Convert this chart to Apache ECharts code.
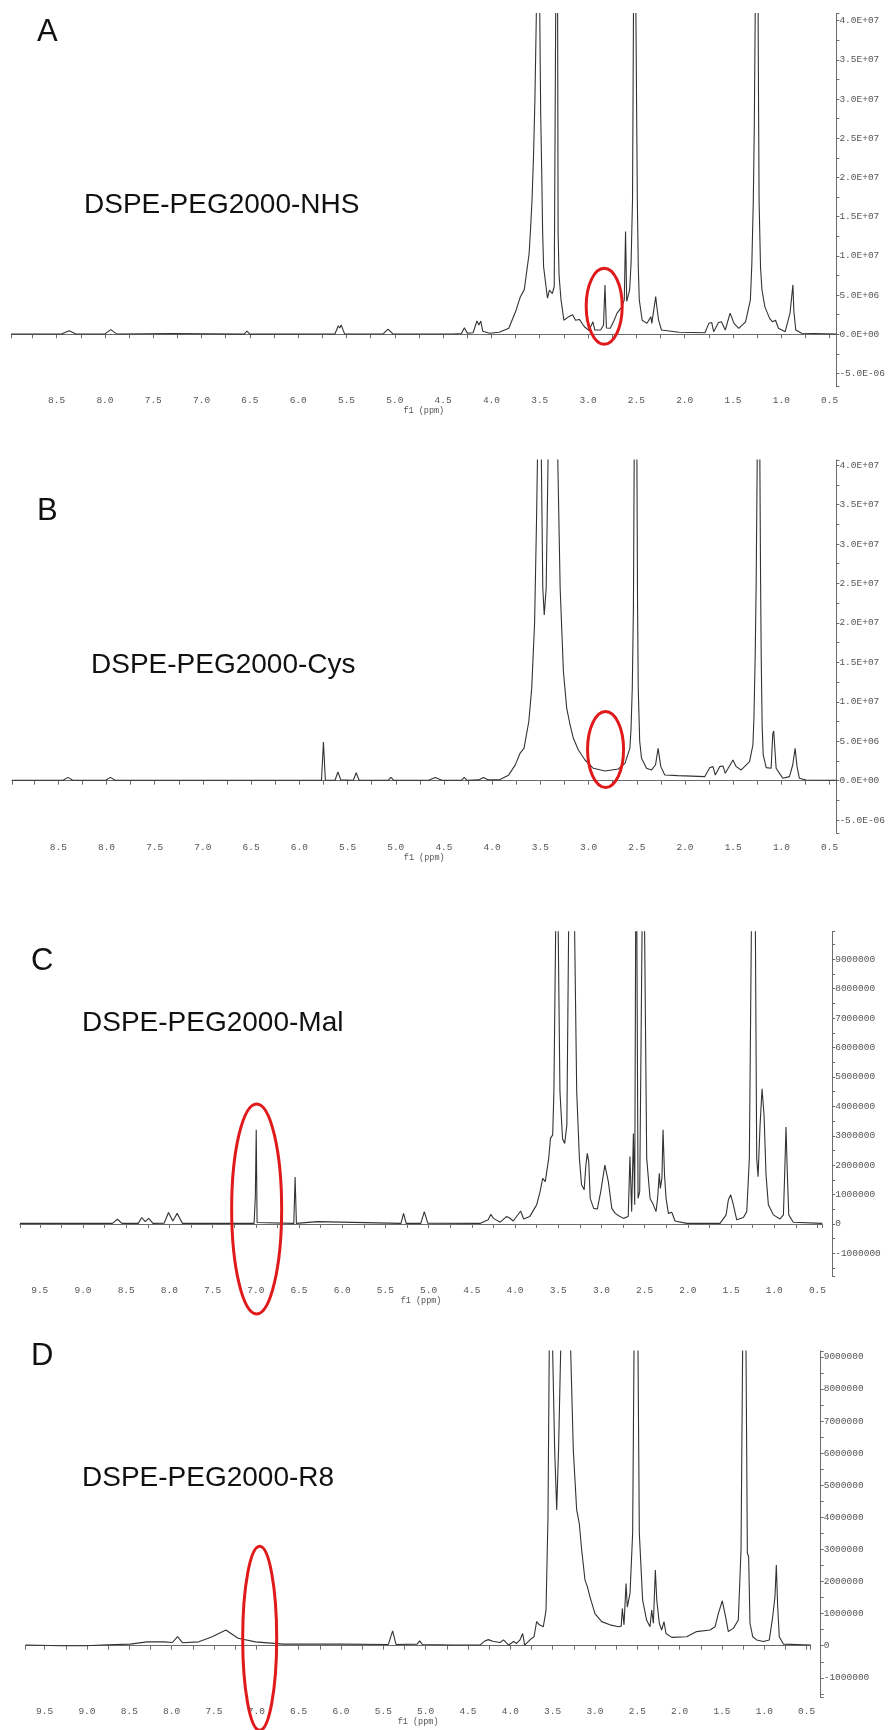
<!DOCTYPE html>
<html>
<head>
<meta charset="utf-8">
<script src="https://cdn.jsdelivr.net/npm/echarts@6/dist/echarts.min.js"></script>
<style>
  html, body { margin: 0; padding: 0; background: #fff; }
  #chart { width: 888px; height: 1730px; }
</style>
</head>
<body>
<div id="chart"></div>
<script>
// spectra: [ppm, intensity in 1e6]
const specA = [[8.97,0.05],[8.45,0.05],[8.37,0.45],[8.30,0.05],[8.00,0.05],[7.94,0.6],[7.88,0.05],[7.30,0.1],[6.56,0.02],[6.53,0.4],[6.50,0.02],[5.62,0.05],[5.585,1.1],[5.57,0.8],[5.555,1.2],[5.52,0.05],[5.12,0.05],[5.07,0.65],[5.02,0.05],[4.40,0.05],[4.31,0.1],[4.28,0.85],[4.25,0.15],[4.19,0.2],[4.15,1.7],[4.13,1.2],[4.11,1.7],[4.09,0.4],[4.02,0.13],[3.92,0.26],[3.82,0.77],[3.75,2.9],[3.70,4.8],[3.66,5.7],[3.61,10.3],[3.595,13.5],[3.58,17.1],[3.565,22.5],[3.55,29.9],[3.535,41],[3.52,60],[3.50,41],[3.49,28],[3.48,21],[3.47,13],[3.46,8.6],[3.42,4.6],[3.40,5.65],[3.37,5.2],[3.35,6.1],[3.335,41],[3.325,60],[3.315,41],[3.31,12.9],[3.30,7.5],[3.28,4.4],[3.25,1.8],[3.20,2.25],[3.16,2.5],[3.13,1.8],[3.09,1.9],[3.04,1.0],[2.99,0.47],[2.95,1.6],[2.93,0.55],[2.87,0.55],[2.84,1.2],[2.825,6.3],[2.81,0.8],[2.77,0.77],[2.73,1.8],[2.70,2.7],[2.65,3.5],[2.625,4.4],[2.612,13.1],[2.60,4.2],[2.57,5.65],[2.555,9],[2.54,17.1],[2.53,41],[2.517,60],[2.505,41],[2.495,25],[2.49,17],[2.48,8.5],[2.47,4.4],[2.44,1.8],[2.39,1.4],[2.35,2.25],[2.34,1.4],[2.30,4.8],[2.29,3.7],[2.27,1.8],[2.24,0.55],[2.06,0.26],[1.79,0.2],[1.75,1.4],[1.72,1.5],[1.70,0.34],[1.65,1.5],[1.62,1.6],[1.58,0.55],[1.53,2.7],[1.49,1.4],[1.44,0.77],[1.37,1.6],[1.32,4.4],[1.305,9],[1.29,17],[1.28,26],[1.27,41],[1.255,60],[1.24,41],[1.235,28],[1.23,17],[1.215,8.5],[1.20,5.65],[1.17,3.5],[1.12,2.0],[1.09,1.6],[1.06,1.8],[1.03,0.77],[0.96,0.34],[0.91,2.7],[0.88,6.3],[0.87,2.9],[0.85,0.55],[0.79,0.13],[0.43,0.04]]

const specB = [[8.98,0.05],[8.45,0.05],[8.40,0.42],[8.35,0.05],[8.01,0.05],[7.96,0.42],[7.91,0.05],[5.77,0.05],[5.75,4.9],[5.73,0.05],[5.63,0.05],[5.60,1.1],[5.57,0.1],[5.44,0.05],[5.41,1.0],[5.38,0.05],[5.21,0.05],[5.19,0.3],[5.17,0.05],[5.08,0.05],[5.05,0.42],[5.02,0.05],[4.66,0.05],[4.59,0.4],[4.52,0.05],[4.32,0.05],[4.29,0.42],[4.26,0.05],[4.14,0.1],[4.09,0.4],[4.04,0.1],[3.93,0.1],[3.83,0.7],[3.76,2.0],[3.71,3.5],[3.67,4.1],[3.62,7.5],[3.59,11.7],[3.56,20],[3.54,33],[3.53,41],[3.505,60],[3.49,41],[3.475,24.4],[3.46,21],[3.44,24.4],[3.42,41],[3.37,60],[3.32,41],[3.295,24.4],[3.261,13.8],[3.227,9.2],[3.192,7.06],[3.158,5.37],[3.106,3.89],[3.037,2.62],[2.951,1.57],[2.83,1.23],[2.692,1.48],[2.623,2.2],[2.572,4.1],[2.56,6.5],[2.547,11.7],[2.535,22],[2.527,41],[2.513,60],[2.499,41],[2.492,22],[2.485,11.7],[2.47,5],[2.451,2.83],[2.399,1.57],[2.348,1.36],[2.306,1.99],[2.279,4.1],[2.251,1.78],[2.21,0.72],[2.072,0.64],[1.796,0.51],[1.744,1.65],[1.71,1.78],[1.686,0.72],[1.641,1.78],[1.606,1.86],[1.582,0.93],[1.503,2.62],[1.469,1.78],[1.417,1.36],[1.331,2.41],[1.296,4.5],[1.285,8],[1.272,15.9],[1.262,25],[1.251,41],[1.238,60],[1.224,41],[1.216,25],[1.21,15.9],[1.20,7],[1.189,3.26],[1.158,1.65],[1.107,1.57],[1.09,5.9],[1.08,6.3],[1.072,6.2],[1.055,1.57],[1.02,0.93],[0.986,0.3],[0.917,0.51],[0.883,1.99],[0.858,4.1],[0.838,1.78],[0.814,0.3],[0.745,0.09],[0.43,0.05]]

const specC = [[9.73,0.02],[8.66,0.02],[8.60,0.16],[8.55,0.02],[8.36,0.02],[8.32,0.22],[8.28,0.08],[8.24,0.19],[8.19,0.02],[8.06,0.03],[8.01,0.39],[7.96,0.1],[7.91,0.36],[7.85,0.02],[7.02,0.02],[7.005,0.95],[6.995,3.2],[6.985,0.05],[6.56,0.02],[6.545,1.6],[6.53,0.02],[6.29,0.08],[5.32,0.02],[5.29,0.36],[5.26,0.02],[5.09,0.02],[5.05,0.42],[5.01,0.03],[4.40,0.02],[4.31,0.14],[4.28,0.33],[4.25,0.19],[4.17,0.06],[4.10,0.25],[4.07,0.22],[4.02,0.1],[3.935,0.44],[3.90,0.17],[3.83,0.25],[3.75,0.65],[3.71,1.1],[3.68,1.55],[3.65,1.44],[3.61,2.23],[3.59,2.91],[3.564,3.03],[3.55,4.5],[3.53,9.9],[3.52,15],[3.50,9.9],[3.48,4.5],[3.45,2.9],[3.425,2.74],[3.40,3.37],[3.38,9.9],[3.34,15],[3.31,9.9],[3.286,4.5],[3.255,2.23],[3.23,1.33],[3.20,1.16],[3.18,2.0],[3.163,2.4],[3.147,2.12],[3.13,0.87],[3.09,0.53],[3.047,0.51],[3.008,1.1],[2.96,2.0],[2.92,1.44],[2.88,0.53],[2.84,0.36],[2.80,0.28],[2.746,0.19],[2.69,0.25],[2.67,2.29],[2.65,0.42],[2.63,3.08],[2.615,0.65],[2.604,9.9],[2.597,15],[2.59,9.9],[2.576,0.87],[2.557,1.1],[2.53,9.9],[2.515,15],[2.50,9.9],[2.476,2.23],[2.437,0.87],[2.399,0.65],[2.368,0.42],[2.35,0.87],[2.33,1.72],[2.318,1.21],[2.30,1.55],[2.287,3.2],[2.27,1.67],[2.252,0.87],[2.225,0.36],[2.186,0.4],[2.148,0.1],[2.013,0.02],[1.627,0.02],[1.557,0.31],[1.531,0.82],[1.504,0.99],[1.473,0.65],[1.434,0.14],[1.357,0.22],[1.318,0.42],[1.288,2.23],[1.265,9.9],[1.241,15],[1.218,9.9],[1.203,2.23],[1.187,1.61],[1.164,3.37],[1.141,4.6],[1.118,3.7],[1.095,1.67],[1.068,0.65],[1.01,0.31],[0.933,0.17],[0.894,0.31],[0.879,1.72],[0.864,3.3],[0.848,1.67],[0.832,0.31],[0.78,0.06],[0.445,0.02]]

const specD = [[9.726,0.02],[9.3,0.0],[9.02,0.0],[8.75,0.03],[8.49,0.05],[8.29,0.12],[8.09,0.12],[7.99,0.1],[7.93,0.28],[7.87,0.09],[7.68,0.12],[7.52,0.28],[7.36,0.49],[7.215,0.23],[7.01,0.12],[6.68,0.05],[6.01,0.05],[5.44,0.04],[5.39,0.46],[5.35,0.04],[5.10,0.05],[5.07,0.15],[5.04,0.04],[4.67,0.02],[4.358,0.02],[4.30,0.15],[4.26,0.19],[4.20,0.13],[4.12,0.1],[4.08,0.18],[4.02,0.02],[3.96,0.13],[3.925,0.07],[3.886,0.18],[3.854,0.38],[3.83,0.02],[3.768,0.18],[3.72,0.28],[3.689,0.75],[3.657,0.65],[3.61,0.59],[3.578,1.11],[3.555,4.0],[3.54,9.2],[3.523,14],[3.50,9.2],[3.476,6.1],[3.452,4.23],[3.43,6.1],[3.405,9.2],[3.354,14],[3.287,9.2],[3.256,6.1],[3.216,4.23],[3.185,3.8],[3.157,2.98],[3.118,2.05],[3.09,1.84],[3.06,1.53],[3.0,1.0],[2.921,0.75],[2.823,0.65],[2.724,0.59],[2.69,0.61],[2.677,1.16],[2.657,0.65],[2.633,1.94],[2.618,1.2],[2.586,1.63],[2.555,3.5],[2.539,9.2],[2.52,14],[2.492,9.2],[2.476,3.5],[2.437,1.42],[2.39,0.8],[2.35,0.59],[2.33,1.11],[2.31,0.7],[2.287,2.36],[2.27,1.42],[2.24,0.7],[2.212,0.49],[2.185,0.75],[2.161,0.38],[2.094,0.26],[1.917,0.28],[1.799,0.44],[1.642,0.49],[1.582,0.59],[1.543,1.0],[1.496,1.4],[1.457,0.9],[1.425,0.44],[1.366,0.54],[1.307,0.8],[1.275,2.98],[1.256,9.2],[1.236,14],[1.216,9.2],[1.2,2.88],[1.185,2.77],[1.169,0.7],[1.137,0.28],[1.09,0.18],[1.011,0.13],[0.941,0.18],[0.901,0.9],[0.874,1.53],[0.858,2.51],[0.842,1.22],[0.823,0.28],[0.775,0.05],[0.452,0.02]]

// y tick labels (values in 1e6)
const yTicksAB = [-5, 0, 5, 10, 15, 20, 25, 30, 35, 40]
const yLabelsAB = ['-5.0E-06', '0.0E+00', '5.0E+06', '1.0E+07', '1.5E+07', '2.0E+07', '2.5E+07', '3.0E+07', '3.5E+07', '4.0E+07']
const yTicksCD = [-1, 0, 1, 2, 3, 4, 5, 6, 7, 8, 9]
const yLabelsCD = ['-1000000', '0', '1000000', '2000000', '3000000', '4000000', '5000000', '6000000', '7000000', '8000000', '9000000']

const panelLetters = ['A', 'B', 'C', 'D']
const sampleNames = ['DSPE-PEG2000-NHS', 'DSPE-PEG2000-Cys', 'DSPE-PEG2000-Mal', 'DSPE-PEG2000-R8']

// red ellipse centres [ppm, intensity 1e6]
const marks = [[2.833, 3.58], [2.824, 3.95], [6.99, 0.51], [6.96, 0.23]]

const panels = [
  { spec: specA, grid: { left: 11.2, top: 13.6, width: 826.7, height: 373.1 }, x: [0.43, 8.97], y: [-6.68, 40.9], ticks: yTicksAB, labels: yLabelsAB, split: 9, yFont: 9.5, offset: 0, ell: [18, 38], head: [37, 32, 84, 205] },
  { spec: specB, grid: { left: 12.0, top: 460, width: 826.8, height: 373.3 }, x: [0.43, 8.98], y: [-6.67, 40.65], ticks: yTicksAB, labels: yLabelsAB, split: 9, yFont: 9.5, offset: 0, ell: [18, 38], head: [37, 511, 91, 665] },
  { spec: specC, grid: { left: 19.9, top: 931.7, width: 802.3, height: 344.3 }, x: [0.445, 9.73], y: [-1.77, 9.94], ticks: yTicksCD, labels: yLabelsCD, split: 11, yFont: 9.5, offset: 10, ell: [25, 105], head: [31, 961, 82, 1023] },
  { spec: specD, grid: { left: 25.5, top: 1351, width: 785.2, height: 346.4 }, x: [0.452, 9.726], y: [-1.61, 9.18], ticks: yTicksCD, labels: yLabelsCD, split: 11, yFont: 9.5, offset: 10, ell: [17, 92], head: [31, 1356, 82, 1478] }
]

const axisGrey = '#6b6b6b'
const monoFont = 'Liberation Mono'

const chart = echarts.init(document.getElementById('chart'))

const grids = []
const xAxes = []
const yAxes = []
const series = []
const graphics = []

panels.forEach((p, i) => {
  grids.push(p.grid)
  xAxes.push({
    type: 'value',
    gridIndex: i,
    inverse: true,
    min: p.x[0],
    max: p.x[1],
    splitNumber: 18,
    name: 'f1 (ppm)',
    nameLocation: 'middle',
    nameGap: 20,
    nameTextStyle: { fontFamily: monoFont, fontSize: 8.5, color: '#555' },
    axisLine: { show: true, lineStyle: { color: axisGrey, width: 1 } },
    axisTick: { show: true, length: 4, lineStyle: { color: axisGrey } },
    minorTick: { show: true, splitNumber: 2, length: 4, lineStyle: { color: axisGrey } },
    axisLabel: {
      margin: 9,
      fontFamily: monoFont,
      fontSize: 9.5,
      color: '#555',
      showMinLabel: false,
      showMaxLabel: false,
      formatter: v => v.toFixed(1)
    },
    splitLine: { show: false }
  })
  yAxes.push({
    type: 'value',
    gridIndex: i,
    position: 'right',
    offset: p.offset,
    min: p.y[0],
    max: p.y[1],
    splitNumber: p.split,
    axisLine: { show: true, lineStyle: { color: axisGrey, width: 1 } },
    axisTick: { show: true, length: 3, lineStyle: { color: axisGrey } },
    minorTick: { show: true, splitNumber: 2, length: 3, lineStyle: { color: axisGrey } },
    axisLabel: {
      margin: 3,
      fontFamily: monoFont,
      fontSize: p.yFont,
      color: '#555',
      formatter: v => {
        const k = p.ticks.indexOf(Math.round(v * 1000) / 1000)
        return k >= 0 ? p.labels[k] : ''
      }
    },
    splitLine: { show: false }
  })
  series.push({
    type: 'line',
    xAxisIndex: i,
    yAxisIndex: i,
    data: p.spec,
    showSymbol: false,
    clip: true,
    lineStyle: { color: '#333', width: 1.1 },
    silent: true
  })
  series.push({
    type: 'custom',
    xAxisIndex: i,
    yAxisIndex: i,
    data: [marks[i]],
    silent: true,
    z: 5,
    renderItem: (params, api) => {
      const c = api.coord([api.value(0), api.value(1)])
      return {
        type: 'ellipse',
        shape: { cx: c[0], cy: c[1], rx: p.ell[0], ry: p.ell[1] },
        style: { fill: 'none', stroke: '#e0191b', lineWidth: 3 }
      }
    }
  })
  graphics.push({
    type: 'text',
    x: p.head[0],
    y: p.head[1],
    style: { text: panelLetters[i], font: '31px "Liberation Sans"', fill: '#111', verticalAlign: 'middle' }
  })
  graphics.push({
    type: 'text',
    x: p.head[2],
    y: p.head[3],
    style: { text: sampleNames[i], font: '28px "Liberation Sans"', fill: '#111', verticalAlign: 'middle' }
  })
})

chart.setOption({
  backgroundColor: '#fff',
  animation: false,
  grid: grids,
  xAxis: xAxes,
  yAxis: yAxes,
  series: series,
  graphic: graphics
})
</script>
</body>
</html>
